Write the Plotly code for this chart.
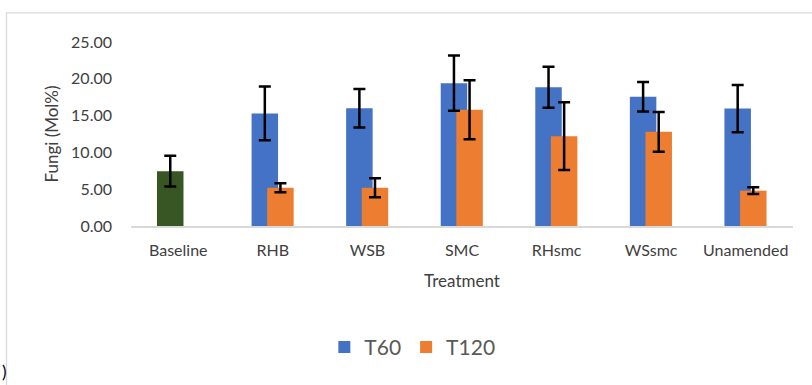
import plotly.graph_objects as go

# ---- data ----
treatments = ["RHB", "WSB", "SMC", "RHsmc", "WSsmc", "Unamended"]
baseline_cat = ["Baseline"]
baseline_val = [7.45]
baseline_err = [2.1]
t60_val = [15.3, 16.0, 19.4, 18.85, 17.55, 15.95]
t60_err = [3.65, 2.6, 3.75, 2.8, 2.0, 3.2]
t120_val = [5.2, 5.2, 15.8, 12.2, 12.8, 4.8]
t120_err = [0.6, 1.3, 4.0, 4.6, 2.7, 0.45]
all_cats = baseline_cat + treatments
y_ticks = [0, 5, 10, 15, 20, 25]

BLUE = "#4472C4"
ORANGE = "#ED7D31"
GREEN = "#375623"
GREY_TXT = "#595959"
FONT = "Lato"

W = 0.28
OFF60 = -0.225
OFF120 = -0.06

err_style = dict(type="data", color="black", thickness=2.5, width=6, visible=True)
noline = dict(width=0)

fig = go.Figure()
fig.add_trace(go.Bar(x=baseline_cat, y=baseline_val, marker=dict(color=GREEN, line=noline),
                     width=W, offset=OFF60, showlegend=False, name="Baseline"))
fig.add_trace(go.Bar(x=treatments, y=t60_val, marker=dict(color=BLUE, line=noline),
                     width=W, offset=OFF60, name="T60"))
fig.add_trace(go.Bar(x=treatments, y=t120_val, marker=dict(color=ORANGE, line=noline),
                     width=W, offset=OFF120, name="T120"))
# error bars drawn on top of all bars
clear = dict(color="rgba(0,0,0,0)", line=noline)
fig.add_trace(go.Bar(x=baseline_cat, y=baseline_val, marker=clear, width=W, offset=OFF60,
                     showlegend=False, hoverinfo="skip", error_y=dict(array=baseline_err, **err_style)))
fig.add_trace(go.Bar(x=treatments, y=t60_val, marker=clear, width=W, offset=OFF60,
                     showlegend=False, hoverinfo="skip", error_y=dict(array=t60_err, **err_style)))
fig.add_trace(go.Bar(x=treatments, y=t120_val, marker=clear, width=W, offset=OFF120,
                     showlegend=False, hoverinfo="skip", error_y=dict(array=t120_err, **err_style)))

fig.update_layout(
    width=812, height=385,
    margin=dict(l=131, r=19, t=42, b=159),
    barmode="overlay",
    plot_bgcolor="white", paper_bgcolor="white",
    font=dict(family=FONT, color=GREY_TXT, size=16),
    legend=dict(orientation="h", x=0.425, xanchor="center", y=-0.66, yanchor="middle",
                font=dict(size=21, color=GREY_TXT), traceorder="normal"),
    xaxis=dict(type="category", categoryorder="array", categoryarray=all_cats,
               showline=True, linecolor="#D9D9D9", linewidth=1.5, ticks="",
               showgrid=False, zeroline=False, ticklabelstandoff=9,
               tickfont=dict(size=16, color="#404040"),
               title=dict(text="Treatment", font=dict(size=17, color="#404040"), standoff=17),
               automargin=False),
    yaxis=dict(range=[0, 25], tickvals=y_ticks, tickformat=".2f", showgrid=False, zeroline=False,
               showline=False, ticks="", ticklabelstandoff=18,
               tickfont=dict(size=16, color="#404040"),
               title=dict(text="Fungi (Mol%)", font=dict(size=17, color="#404040"), standoff=8),
               automargin=False),
    shapes=[dict(type="rect", xref="paper", yref="paper", x0=(6.5 - 131) / 662, x1=1.2,
                 y0=-2, y1=(226 - 12.5) / 184.3, line=dict(color="#D9D9D9", width=1.3),
                 fillcolor="rgba(0,0,0,0)", layer="below")],
    annotations=[dict(text=")", xref="paper", yref="paper", x=(0 - 131) / 662, y=(226 - 384) / 184.3,
                      xanchor="left", yanchor="bottom", showarrow=False,
                      font=dict(size=17, color="black", family=FONT))],
)

fig.write_html("out.html")
